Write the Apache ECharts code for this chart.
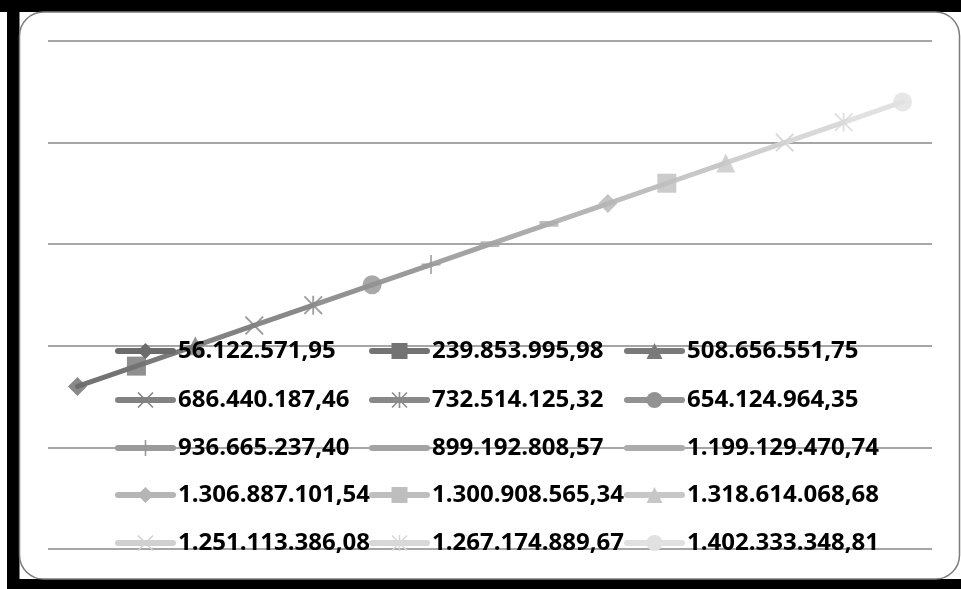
<!DOCTYPE html>
<html>
<head>
<meta charset="utf-8">
<script src="https://cdn.jsdelivr.net/npm/echarts@6/dist/echarts.min.js"></script>
<style>
  html, body { margin: 0; padding: 0; background: #ffffff; }
  #chart { width: 961px; height: 589px; }
</style>
</head>
<body>
<div id="chart"></div>
<script>
// Category labels (shown in the legend)
const categories = [
  '56.122.571,95', '239.853.995,98', '508.656.551,75',
  '686.440.187,46', '732.514.125,32', '654.124.964,35',
  '936.665.237,40', '899.192.808,57', '1.199.129.470,74',
  '1.306.887.101,54', '1.300.908.565,34', '1.318.614.068,68',
  '1.251.113.386,08', '1.267.174.889,67', '1.402.333.348,81'
];
// Plotted values, one per category
const values = [8, 9, 10, 11, 12, 13, 14, 15, 16, 17, 18, 19, 20, 21, 22];

// Marker shapes
const X_PATH = 'path://M0,1.4 L1.4,0 L10,8.6 L18.6,0 L20,1.4 L11.4,10 L20,18.6 L18.6,20 L10,11.4 L1.4,20 L0,18.6 L8.6,10 Z';
const STAR_PATH = X_PATH.replace('path://', 'path://M9,0 L11,0 L11,20 L9,20 Z ');
const PLUS_PATH = 'path://M9,0 L11,0 L11,9 L20,9 L20,11 L11,11 L11,20 L9,20 L9,11 L0,11 L0,9 L9,9 Z';
const DASH_PATH = 'path://M0,0 M0,7 L20,7 L20,13 L0,13 Z M20,20';

const markers = ['diamond', 'rect', 'triangle', X_PATH, STAR_PATH, 'circle', PLUS_PATH, DASH_PATH,
                 DASH_PATH, 'diamond', 'rect', 'triangle', X_PATH, STAR_PATH, 'circle'];
const colors = ['#6b6b6b', '#737373', '#7a7a7a', '#828282', '#898989', '#929292', '#9a9a9a', '#a3a3a3',
                '#acacac', '#b5b5b5', '#bebebe', '#c7c7c7', '#d0d0d0', '#d8d8d8', '#e1e1e1'];

// One line series per point: the segment leading into it, coloured like the point
const lineSeries = categories.map((name, i) => {
  const data = values.map((v, j) => (j === i || j === i - 1) ? v : null);
  return {
    name: name,
    type: 'line',
    data: data,
    symbol: markers[i],
    showSymbol: false,
    color: colors[i],
    lineStyle: { width: 5, color: colors[i], join: 'round', cap: 'round' },
    connectNulls: false,
    silent: true,
    z: 2
  };
});

// Markers drawn above all the segments
const markerSeries = {
  type: 'scatter',
  z: 3,
  silent: true,
  data: values.map((v, i) => ({
    value: v,
    symbol: markers[i],
    symbolSize: 19,
    itemStyle: { color: colors[i] }
  }))
};

// Legend laid out as a 3-column grid: one legend component per entry
const rowCenters = [349, 398, 446, 493, 541];
const colLefts = [115, 369, 624];
const legends = categories.map((name, i) => ({
  data: [name],
  left: colLefts[i % 3],
  top: rowCenters[Math.floor(i / 3)] - 10,
  padding: 0,
  orient: 'horizontal',
  itemWidth: 55,
  itemHeight: 20,
  selectedMode: false,
  lineStyle: { width: 6, cap: 'round' },
  textStyle: {
    fontFamily: 'Open Sans',
    fontWeight: 'bold',
    fontSize: 24,
    color: '#000000'
  }
}));

const chart = echarts.init(document.getElementById('chart'), null, { renderer: 'canvas' });
chart.setOption({
  backgroundColor: '#ffffff',
  animation: false,
  graphic: [
    { type: 'rect', shape: { x: 0, y: 0, width: 961, height: 12 }, style: { fill: '#000000' }, z: -10 },
    { type: 'rect', shape: { x: 7, y: 0, width: 12.5, height: 589 }, style: { fill: '#000000' }, z: -10 },
    { type: 'rect', shape: { x: 7, y: 579, width: 954, height: 10 }, style: { fill: '#000000' }, z: -10 },
    {
      type: 'rect',
      shape: { x: 19.5, y: 12, width: 940, height: 567, r: 24 },
      style: { fill: '#ffffff', stroke: '#7d7d7d', lineWidth: 1.5 },
      z: -9
    }
  ],
  grid: { left: 48, right: 29, top: 41, bottom: 40, containLabel: false },
  xAxis: {
    type: 'category',
    data: categories,
    boundaryGap: true,
    axisLine: { show: false },
    axisTick: { show: false },
    axisLabel: { show: false },
    splitLine: { show: false }
  },
  yAxis: {
    type: 'value',
    min: 0,
    max: 25,
    interval: 5,
    axisLine: { show: false },
    axisTick: { show: false },
    axisLabel: { show: false },
    splitLine: { show: true, lineStyle: { color: '#888888', width: 1.5 } }
  },
  legend: legends,
  series: lineSeries.concat([markerSeries])
});
</script>
</body>
</html>
